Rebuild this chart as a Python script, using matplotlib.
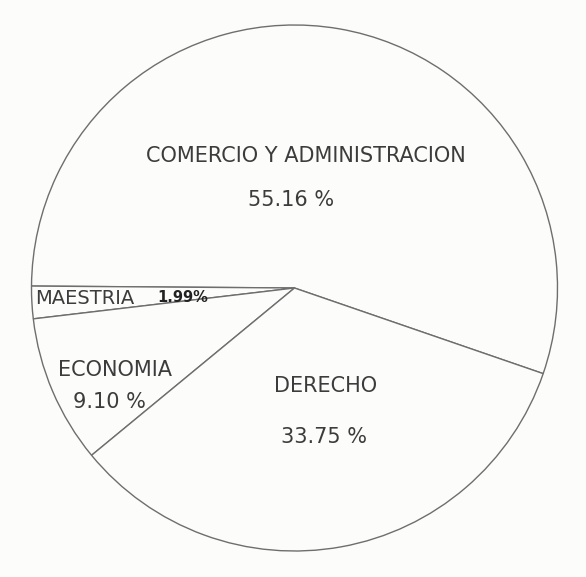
import matplotlib.pyplot as plt

# Distribucion por carrera (porcentajes)
carreras = ['COMERCIO Y ADMINISTRACION', 'MAESTRIA', 'ECONOMIA', 'DERECHO']
porcentajes = [55.16, 1.99, 9.10, 33.75]
etiquetas = ['55.16 %', '1.99%', '9.10 %', '33.75 %']

fig = plt.figure(figsize=(5.86, 5.77), dpi=100, facecolor='#fcfcfa')
ax = fig.add_axes([0, 0, 1, 1])
ax.set_facecolor('#fcfcfa')

ax.pie(porcentajes, startangle=-19, counterclock=True, radius=1.0,
       colors=['#fcfcfa'] * len(porcentajes),
       wedgeprops=dict(edgecolor='#6e6e6e', linewidth=1.0))

# pixel -> data mapping (center at 294.5, 288 px; radius 263 px)
cx, cy, r = 294.5, 288, 263.0
ax.set_aspect('auto')
ax.set_xlim((0 - cx) / r, (586 - cx) / r)
ax.set_ylim((cy - 577) / r, (cy - 0) / r)
ax.axis('off')


def px(x, y):
    return (x - cx) / r, (cy - y) / r


col = '#3c3c3c'
kw = dict(color=col, fontsize=15, ha='center', va='center')

ax.text(*px(306, 156), carreras[0], **kw)
ax.text(*px(291, 200), etiquetas[0], **kw)
ax.text(*px(326, 386), carreras[3], **kw)
ax.text(*px(324, 437), etiquetas[3], **kw)
ax.text(*px(115, 370), carreras[2], **kw)
ax.text(*px(109, 402), etiquetas[2], **kw)
ax.text(*px(35, 298), carreras[1], color=col, fontsize=14, ha='left', va='center')
ax.text(*px(183, 297), etiquetas[1], color='#222222', fontsize=10.5,
        fontweight='bold', ha='center', va='center')

fig.savefig('out.png', dpi=100, facecolor=fig.get_facecolor())
